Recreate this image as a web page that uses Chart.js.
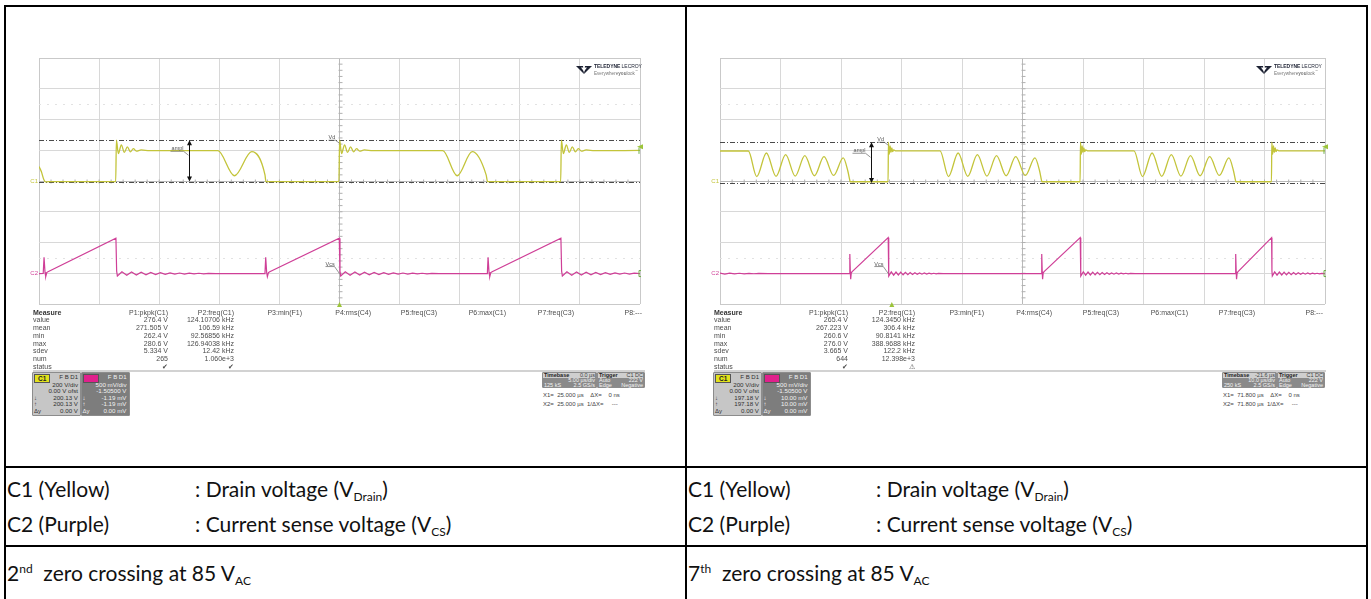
<!DOCTYPE html>
<html>
<head>
<meta charset="utf-8">
<script src="https://cdn.jsdelivr.net/npm/chart.js@4.4.0/dist/chart.umd.min.js"></script>
<style>
  body { margin: 0; background: #fff; width: 1371px; height: 599px; overflow: hidden; position: relative; font-family: Lato, "Noto Sans", sans-serif; }
  .rule { position: absolute; background: #000; }
  .cap { position: absolute; font-size: 21px; line-height: 24px; color: #111; white-space: nowrap; }
  .cap .sb { font-size: 12px; position: relative; top: 4px; }
  .cap .sp { font-size: 12px; position: relative; top: -8px; }
  .scope { position: absolute; font-family: "Liberation Sans", Arial, sans-serif; font-size: 7px; line-height: 7px; color: #4d4d4d; white-space: nowrap; }
  .tiny { position: absolute; font-family: "Liberation Sans", Arial, sans-serif; font-size: 5.5px; line-height: 5px; white-space: nowrap; }
  .box { position: absolute; border: 1px solid #8c8c8c; border-radius: 1px; }
  canvas { position: absolute; }
  .logo { position: absolute; font-family: "Liberation Sans", Arial, sans-serif; white-space: nowrap; }
</style>
</head>
<body>

<div class="rule" style="left:4px;top:5px;width:1364px;height:2px"></div>
<div class="rule" style="left:4px;top:5px;width:2px;height:594px"></div>
<div class="rule" style="left:685px;top:5px;width:2px;height:594px"></div>
<div class="rule" style="left:1366px;top:5px;width:2px;height:594px"></div>
<div class="rule" style="left:4px;top:466px;width:1364px;height:2px"></div>
<div class="rule" style="left:4px;top:545px;width:1364px;height:2px"></div>

<canvas id="leftScope" width="630" height="262" style="left:20px;top:50px"></canvas>
<canvas id="rightScope" width="635" height="262" style="left:700px;top:50px"></canvas>

<div class="cap" style="left:7px;top:477px">C1 (Yellow)</div>
<div class="cap" style="left:195px;top:477px">: Drain voltage (V<span class="sb">Drain</span>)</div>
<div class="cap" style="left:7px;top:512px">C2 (Purple)</div>
<div class="cap" style="left:195px;top:512px">: Current sense voltage (V<span class="sb">CS</span>)</div>
<div class="cap" style="left:7px;top:561px">2<span class="sp">nd</span>&nbsp; zero crossing at 85 V<span class="sb">AC</span></div>

<div class="cap" style="left:688px;top:477px">C1 (Yellow)</div>
<div class="cap" style="left:876px;top:477px">: Drain voltage (V<span class="sb">Drain</span>)</div>
<div class="cap" style="left:688px;top:512px">C2 (Purple)</div>
<div class="cap" style="left:876px;top:512px">: Current sense voltage (V<span class="sb">CS</span>)</div>
<div class="cap" style="left:688px;top:561px">7<span class="sp">th</span>&nbsp; zero crossing at 85 V<span class="sb">AC</span></div>

<script>
// ---- data (time in µs, C1 in V, C2 in mV) ----
const leftXTicks = [-25, -20, -15, -10, -5, 0, 5, 10, 15, 20, 25];          // 5 µs/div
const rightXTicks = [-28.4, -18.4, -8.4, 1.6, 11.6, 21.6, 31.6, 41.6, 51.6, 61.6, 71.6]; // 10 µs/div
const voltTicks = [-800, -600, -400, -200, 0, 200, 400, 600, 800];        // 200 V/div

const leftDrainV = [
  [-25, 95], [-24.8, 60], [-24.6, 10], [-24.45, -6], [-24.2, -4],
  [-18.62, -4], [-18.56, 265], [-18.4, 178], [-18.15, 235], [-17.9, 186], [-17.65, 222], [-17.4, 190], [-17.15, 210], [-16.9, 194], [-16.5, 202], [-15.8, 197],
  [-10.12, 197], [-8.74, 34], [-7.30, 191], [-6.2, 40], [-6.12, -4],
  [-0.05, -4], [0.01, 265], [0.17, 178], [0.42, 235], [0.67, 186], [0.92, 222], [1.17, 190], [1.42, 210], [1.67, 194], [2.07, 202], [2.77, 197],
  [8.59, 197], [9.79, 34], [11.04, 191], [12.2, 40], [12.32, -4],
  [18.40, -4], [18.46, 265], [18.62, 178], [18.87, 235], [19.12, 186], [19.37, 222], [19.62, 190], [19.87, 210], [20.12, 194], [20.52, 202], [21.22, 197],
  [25, 199]
];

const leftCsMv = [
  [-25, 0], [-24.65, 2], [-24.58, 265], [-24.5, 20], [-24.44, -50], [-24.35, 15], [-24.25, 31],
  [-18.6, 574], [-18.54, 40], [-18.48, -40], [-18.1, 28], [-17.7, -26], [-17.3, 25], [-16.9, -23], [-16.5, 21], [-16.1, -19], [-15.7, 18], [-15.3, -16], [-14.9, 15], [-14.5, -13], [-14.1, 12], [-13.7, -10], [-13.3, 9], [-12.9, -8], [-12.5, 7], [-12.1, -6], [-11.7, 5], [-11.3, -4], [-10.9, 3], [-10.3, 0],
  [-6.2, 0], [-6.14, 265], [-6.06, 20], [-6.0, -50], [-5.91, 15], [-5.8, 31],
  [-0.02, 574], [0.04, 40], [0.1, -40], [0.48, 28], [0.88, -26], [1.28, 25], [1.68, -23], [2.08, 21], [2.48, -19], [2.88, 18], [3.28, -16], [3.68, 15], [4.08, -13], [4.48, 12], [4.88, -10], [5.28, 9], [5.68, -8], [6.08, 7], [6.48, -6], [6.88, 5], [7.28, -4], [7.68, 3], [8.28, 0],
  [12.3, 0], [12.36, 265], [12.44, 20], [12.5, -50], [12.59, 15], [12.7, 31],
  [18.42, 574], [18.48, 40], [18.54, -40], [18.92, 28], [19.32, -26], [19.72, 25], [20.12, -23], [20.52, 21], [20.92, -19], [21.32, 18], [21.72, -16], [22.12, 15], [22.52, -13], [22.92, 12], [23.32, -10], [23.72, 9], [24.12, -8], [24.52, 7], [25, 0]
];

const rightDrainV = [
  [-28.4, 195], [-23.72, 195], [-22.32, 29], [-20.73, 182], [-19.14, 30], [-17.55, 172], [-15.97, 32], [-14.38, 165], [-12.79, 34], [-11.21, 158], [-9.62, 36], [-8.03, 150], [-7.3, 70], [-6.95, 5], [-6.9, -5],
  [-0.62, -5], [-0.56, 252], [-0.42, 175], [-0.28, 228], [-0.14, 186], [0.0, 215], [0.14, 191], [0.3, 203], [0.6, 196],
  [7.97, 196], [9.37, 29], [10.96, 182], [12.55, 30], [14.14, 172], [15.72, 32], [17.31, 165], [18.90, 34], [20.48, 158], [22.07, 36], [23.66, 150], [24.4, 70], [24.74, 5], [24.8, -5],
  [31.12, -5], [31.18, 252], [31.32, 175], [31.46, 228], [31.6, 186], [31.74, 215], [31.88, 191], [32.04, 203], [32.34, 196],
  [40.03, 196], [41.43, 29], [43.02, 182], [44.61, 30], [46.20, 172], [47.78, 32], [49.37, 165], [50.96, 34], [52.54, 158], [54.13, 36], [55.72, 150], [56.45, 70], [56.8, 5], [56.86, -5],
  [62.75, -5], [62.81, 252], [62.95, 175], [63.09, 228], [63.23, 186], [63.37, 215], [63.51, 191], [63.67, 203], [63.97, 196],
  [71.6, 196]
];

const rightCsMv = [
  [-28.4, 8], [-27.6, -8], [-26.8, 7], [-26.0, -6], [-25.2, 5], [-24.4, -4], [-23.6, 4], [-22.8, -3], [-22.0, 2], [-20.5, 0],
  [-7.0, 0], [-6.94, 319], [-6.86, 30], [-6.8, -93], [-6.7, 10], [-6.55, 31],
  [-0.6, 584], [-0.54, 40], [-0.48, -40], [-0.09, 28], [0.3, -26], [0.69, 25], [1.08, -23], [1.47, 22], [1.86, -20], [2.25, 19], [2.64, -17], [3.03, 16], [3.42, -14], [3.81, 13], [4.2, -12], [4.59, 11], [4.98, -10], [5.37, 9], [5.76, -8], [6.15, 7], [6.54, -6], [6.93, 5], [7.32, -4], [7.71, 3], [8.5, 0],
  [24.72, 0], [24.78, 319], [24.86, 30], [24.92, -93], [25.02, 10], [25.17, 31],
  [31.14, 584], [31.2, 40], [31.26, -40], [31.65, 28], [32.04, -26], [32.43, 25], [32.82, -23], [33.21, 22], [33.6, -20], [33.99, 19], [34.38, -17], [34.77, 16], [35.16, -14], [35.55, 13], [35.94, -12], [36.33, 11], [36.72, -10], [37.11, 9], [37.5, -8], [37.89, 7], [38.28, -6], [38.67, 5], [39.06, -4], [39.45, 3], [40.2, 0],
  [56.78, 0], [56.84, 319], [56.92, 30], [56.98, -93], [57.08, 10], [57.23, 31],
  [62.77, 584], [62.83, 40], [62.89, -40], [63.28, 28], [63.67, -26], [64.06, 25], [64.45, -23], [64.84, 22], [65.23, -20], [65.62, 19], [66.01, -17], [66.4, 16], [66.79, -14], [67.18, 13], [67.57, -12], [67.96, 11], [68.35, -10], [68.74, 9], [69.13, -8], [69.52, 7], [69.91, -6], [70.3, 5], [70.69, -4], [71.08, 3], [71.6, 0]
];

// amplitude cursors (V) and trigger level
const leftCursorsV = [265, -4];
const rightCursorsV = [252, -13];
const triggerLevelV = 222;

// measurement panel
const measureRows = ['Measure', 'value', 'mean', 'min', 'max', 'sdev', 'num', 'status'];
const paramHeads = ['P1:pkpk(C1)', 'P2:freq(C1)', 'P3:min(F1)', 'P4:rms(C4)', 'P5:freq(C3)', 'P6:max(C1)', 'P7:freq(C3)', 'P8:---'];
const leftP1 = ['276.4 V', '271.505 V', '262.4 V', '280.6 V', '5.334 V', '265', '\u2714'];
const leftP2 = ['124.10706 kHz', '106.59 kHz', '92.56856 kHz', '126.94038 kHz', '12.42 kHz', '1.060e+3', '\u2714'];
const rightP1 = ['265.4 V', '267.223 V', '260.6 V', '276.0 V', '3.665 V', '644', '\u2714'];
const rightP2 = ['124.3450 kHz', '306.4 kHz', '90.8141 kHz', '388.9688 kHz', '122.2 kHz', '12.398e+3', '\u26A0'];
const leftC1Box = ['200 V/div', '0.00 V ofst', '200.13 V', '200.13 V', '0.00 V'];
const leftC2Box = ['500 mV/div', '-1.50500 V', '-1.19 mV', '-1.19 mV', '0.00 mV'];
const rightC1Box = ['200 V/div', '0.00 V ofst', '197.18 V', '197.18 V', '0.00 V'];
const rightC2Box = ['500 mV/div', '-1.50500 V', '10.00 mV', '10.00 mV', '0.00 mV'];
const leftTimebase = ['0.0 µs', '5.00 µs/div', '125 kS', '2.5 GS/s'];
const rightTimebase = ['-21.6 µs', '10.0 µs/div', '250 kS', '2.5 GS/s'];
const triggerInfo = ['C1 DC', 'Auto', '222 V', 'Edge', 'Negative'];
const leftCursorX = ['25.000 µs', '0 ns', '25.000 µs', '---'];
const rightCursorX = ['71.800 µs', '0 ns', '71.800 µs', '---'];

const YELLOW = '#c3c43a';
const MAGENTA = '#cf3f97';

function line(ctx, x1, y1, x2, y2) {
    ctx.beginPath();
    ctx.moveTo(x1, y1);
    ctx.lineTo(x2, y2);
    ctx.stroke();
}

// draws the scope decorations: centre ticks, cursors, arrow, labels, markers
const scopeOverlay = {
    id: 'scopeOverlay',
    beforeDatasetsDraw(chart, args, opts) {
        const { ctx, chartArea: a, scales: { x, y } } = chart;
        ctx.save();
        // faint dotted rows
        ctx.strokeStyle = '#e2e2e2';
        ctx.lineWidth = 1;
        ctx.setLineDash([2, 6]);
        [500, -500].forEach(v => {
            const py = Math.round(y.getPixelForValue(v)) + 0.5;
            line(ctx, a.left, py, a.right, py);
        });
        ctx.setLineDash([]);
        // minor ticks on the centre lines
        const cx = Math.round(x.getPixelForValue(opts.centre)) + 0.5;
        const cy = Math.round(y.getPixelForValue(0)) + 0.5;
        ctx.strokeStyle = '#b0b0b0';
        const dx = (a.right - a.left) / 50, dy = (a.bottom - a.top) / 40;
        for (let i = 1; i < 50; i++) line(ctx, a.left + i * dx, cy - 2, a.left + i * dx, cy + 2);
        for (let i = 1; i < 40; i++) line(ctx, cx - 2, a.top + i * dy, cx + 2, a.top + i * dy);
        // amplitude cursors (dash-dot)
        ctx.strokeStyle = '#4a4a4a';
        ctx.setLineDash([5, 2, 1, 2]);
        opts.cursors.forEach(v => {
            const py = Math.round(y.getPixelForValue(v)) + 0.5;
            line(ctx, a.left, py, a.right, py);
        });
        ctx.restore();
    },
    afterDatasetsDraw(chart, args, opts) {
        const { ctx, chartArea: a, scales: { x, y, y2 } } = chart;
        ctx.save();
        // ampl arrow
        const ax = Math.round(x.getPixelForValue(opts.arrowT)) + 0.5;
        const y1 = y.getPixelForValue(opts.cursors[0]);
        const yb = y.getPixelForValue(opts.cursors[1]);
        ctx.strokeStyle = '#111';
        ctx.fillStyle = '#111';
        ctx.lineWidth = 1;
        line(ctx, ax, y1 + 3, ax, yb - 3);
        ctx.beginPath();
        ctx.moveTo(ax, y1); ctx.lineTo(ax - 2.5, y1 + 5); ctx.lineTo(ax + 2.5, y1 + 5); ctx.closePath(); ctx.fill();
        ctx.beginPath();
        ctx.moveTo(ax, yb); ctx.lineTo(ax - 2.5, yb - 5); ctx.lineTo(ax + 2.5, yb - 5); ctx.closePath(); ctx.fill();

        ctx.font = '5.5px "Liberation Sans", Arial';
        ctx.fillStyle = '#555';
        ctx.strokeStyle = '#666';
        ctx.lineWidth = 0.7;
        // 'ampl' tag
        ctx.textAlign = 'right';
        ctx.fillText('ampl', ax - 6, y1 + 10);
        line(ctx, ax - 19, y1 + 11, ax - 6, y1 + 11);
        line(ctx, ax - 6, y1 + 11, ax - 1, y1 + 15);
        // Vd and Vcs tags next to the switching edge
        const mx = x.getPixelForValue(opts.markT);
        const c2y = y2.getPixelForValue(0);
        ctx.textAlign = 'left';
        ctx.fillText('Vd', mx - 11, y1 - 1);
        line(ctx, mx - 11, y1, mx - 4, y1);
        line(ctx, mx - 4, y1, mx, y1 + 3);
        ctx.fillText('Vcs', mx - 14, c2y - 8);
        line(ctx, mx - 14, c2y - 7, mx - 5, c2y - 7);
        line(ctx, mx - 5, c2y - 7, mx, c2y);

        // channel ground markers
        ctx.font = '6px "Liberation Sans", Arial';
        ctx.textAlign = 'right';
        ctx.textBaseline = 'middle';
        ctx.fillStyle = YELLOW;
        ctx.fillText('C1', a.left - 1, y.getPixelForValue(0));
        ctx.fillStyle = MAGENTA;
        ctx.fillText('C2', a.left - 1, c2y);

        // trigger position / level markers
        const tx = x.getPixelForValue(0);
        ctx.fillStyle = '#9cc43a';
        ctx.beginPath();
        ctx.moveTo(tx, a.bottom - 2); ctx.lineTo(tx - 2.5, a.bottom + 3); ctx.lineTo(tx + 2.5, a.bottom + 3); ctx.closePath(); ctx.fill();
        const ty = y.getPixelForValue(triggerLevelV);
        ctx.beginPath();
        ctx.moveTo(a.right - 3, ty); ctx.lineTo(a.right + 3, ty - 2.5); ctx.lineTo(a.right + 3, ty + 2.5); ctx.closePath(); ctx.fill();
        ctx.strokeStyle = '#6fae4a';
        ctx.lineWidth = 1;
        line(ctx, a.right - 1, ty + 1, a.right - 1, ty + 7);
        line(ctx, a.right - 1, c2y - 3, a.right - 1, c2y + 3);
        line(ctx, a.right - 1, c2y - 3, a.right + 1, c2y - 3);
        line(ctx, a.right - 1, c2y + 3, a.right + 1, c2y + 3);
        ctx.restore();
    }
};

function makeScope(id, xMin, xMax, xTicks, centre, drain, cs, overlay, pad) {
    const gridColor = (c) => {
        if (!c.tick) return '#d4d4d4';
        if (c.index === 0 || c.index === xTicks.length - 1) return '#c9c9c9';
        if (Math.abs(c.tick.value - centre) < 1e-6) return '#b9b9b9';
        return '#d8d8d8';
    };
    return new Chart(document.getElementById(id), {
        type: 'line',
        data: {
            datasets: [
                {
                    label: 'C1',
                    data: drain.map(p => ({ x: p[0], y: p[1] })),
                    yAxisID: 'y',
                    borderColor: YELLOW,
                    borderWidth: 1.3,
                    pointRadius: 0,
                    cubicInterpolationMode: 'monotone'
                },
                {
                    label: 'C2',
                    data: cs.map(p => ({ x: p[0], y: p[1] })),
                    yAxisID: 'y2',
                    borderColor: MAGENTA,
                    borderWidth: 1.2,
                    pointRadius: 0,
                    tension: 0
                }
            ]
        },
        options: {
            responsive: false,
            animation: false,
            events: [],
            layout: { padding: pad },
            plugins: {
                legend: { display: false },
                tooltip: { enabled: false },
                scopeOverlay: overlay
            },
            scales: {
                x: {
                    type: 'linear',
                    min: xMin,
                    max: xMax,
                    afterBuildTicks: s => { s.ticks = xTicks.map(v => ({ value: v })); },
                    ticks: { display: false },
                    border: { display: false },
                    grid: { drawTicks: false, color: gridColor, lineWidth: 1 }
                },
                y: {
                    min: -800,
                    max: 800,
                    afterBuildTicks: s => { s.ticks = voltTicks.map(v => ({ value: v })); },
                    ticks: { display: false },
                    border: { display: false },
                    grid: {
                        drawTicks: false,
                        lineWidth: 1,
                        color: c => (c.tick && Math.abs(c.tick.value) === 800) ? '#c9c9c9' : (c.tick && c.tick.value === 0 ? '#b9b9b9' : '#d8d8d8')
                    }
                },
                // C2: 500 mV/div, offset -1.505 V
                y2: { display: false, min: -495, max: 3505 }
            }
        },
        plugins: [scopeOverlay]
    });
}

makeScope('leftScope', -25, 25, leftXTicks, 0, leftDrainV, leftCsMv,
    { centre: 0, cursors: leftCursorsV, arrowT: -12.48, markT: 0 },
    { left: 19, right: 10, top: 8, bottom: 8 });
makeScope('rightScope', -28.4, 71.6, rightXTicks, 21.6, rightDrainV, rightCsMv,
    { centre: 21.6, cursors: rightCursorsV, arrowT: -3.39, markT: -0.58 },
    { left: 20, right: 10, top: 8, bottom: 8 });

// ---- text panels of the scope captures ----
function addDiv(cls, x, y, html, align, extra) {
    const d = document.createElement('div');
    d.className = cls;
    d.innerHTML = html;
    d.style.top = y + 'px';
    if (align === 'right') d.style.right = (1371 - x) + 'px';
    else d.style.left = x + 'px';
    if (extra) Object.assign(d.style, extra);
    document.body.appendChild(d);
    return d;
}

function measurePanel(labelX, colRight, p1, p2) {
    const top = 308.5, step = 7.75;
    measureRows.forEach((r, i) => {
        addDiv('scope', labelX, top + i * step, r, 'left', i === 0 ? { fontWeight: 'bold', color: '#333' } : null);
    });
    paramHeads.forEach((h, j) => addDiv('scope', colRight[j], top, h, 'right'));
    p1.forEach((v, i) => addDiv('scope', colRight[0], top + (i + 1) * step, v, 'right'));
    p2.forEach((v, i) => addDiv('scope', colRight[1], top + (i + 1) * step, v, 'right'));
    addDiv('rule', labelX, 370, '', 'left', { width: (colRight[7] + 3 - labelX) + 'px', height: '2px', background: '#d2d2d2' });
}

function channelBox(x, y, name, vals, dark) {
    const w = 47, h = 42;
    addDiv('box', x, y, '', 'left', { width: w + 'px', height: h + 'px', background: dark ? '#7d7d7d' : '#c6c6c6' });
    const txt = dark ? '#f2f2f2' : '#303030';
    addDiv('tiny', x + 2, y + 2, name, 'left', {
        background: dark ? '#e0208c' : '#e2e21c', color: dark ? '#e0208c' : '#222', fontWeight: 'bold',
        fontSize: '6.5px', lineHeight: '7px', padding: '0 3px', border: '1px solid #555'
    });
    addDiv('tiny', x + w - 1, y + 2, 'F&nbsp;B&nbsp;D1', 'right', { color: txt, fontSize: '6px', lineHeight: '6px' });
    const glyphs = ['', '', '\u2193', '\u2191', '\u0394y'];
    vals.forEach((v, i) => {
        addDiv('tiny', x + w - 1, y + 9.5 + i * 6.6, v, 'right', { color: txt, fontSize: '6.2px', lineHeight: '6px' });
        if (glyphs[i]) addDiv('tiny', x + 2, y + 9.5 + i * 6.6, glyphs[i], 'left', { color: txt, fontSize: '6px', lineHeight: '6px' });
    });
}

function timeBoxes(x, y, tb, cx) {
    addDiv('box', x, y, '', 'left', { width: '53px', height: '14px', background: '#8a8a8a' });
    addDiv('tiny', x + 1, y + 1, '', 'left', { width: '52px', height: '5px', background: '#cfcfcf' });
    addDiv('tiny', x + 2, y + 1, '<b>Timebase</b>', 'left', { color: '#222' });
    addDiv('tiny', x + 53, y + 1, tb[0], 'right', { color: '#444' });
    addDiv('tiny', x + 53, y + 6, tb[1], 'right', { color: '#f4f4f4' });
    addDiv('tiny', x + 2, y + 11, tb[2], 'left', { color: '#f4f4f4', lineHeight: '4px' });
    addDiv('tiny', x + 53, y + 11, tb[3], 'right', { color: '#f4f4f4', lineHeight: '4px' });
    const tx = x + 55;
    addDiv('box', tx, y, '', 'left', { width: '46px', height: '14px', background: '#8a8a8a' });
    addDiv('tiny', tx + 1, y + 1, '', 'left', { width: '45px', height: '5px', background: '#cfcfcf' });
    addDiv('tiny', tx + 2, y + 1, '<b>Trigger</b>', 'left', { color: '#222' });
    addDiv('tiny', tx + 46, y + 1, triggerInfo[0], 'right', { color: '#444' });
    addDiv('tiny', tx + 2, y + 6, triggerInfo[1], 'left', { color: '#f4f4f4' });
    addDiv('tiny', tx + 46, y + 6, triggerInfo[2], 'right', { color: '#f4f4f4' });
    addDiv('tiny', tx + 2, y + 11, triggerInfo[3], 'left', { color: '#f4f4f4', lineHeight: '4px' });
    addDiv('tiny', tx + 46, y + 11, triggerInfo[4], 'right', { color: '#f4f4f4', lineHeight: '4px' });
    addDiv('tiny', x + 1, y + 21, 'X1=&nbsp; ' + cx[0] + '&nbsp;&nbsp;&nbsp; \u0394X=&nbsp;&nbsp;&nbsp; ' + cx[1], 'left', { color: '#444', fontSize: '6px' });
    addDiv('tiny', x + 1, y + 30, 'X2=&nbsp; ' + cx[2] + '&nbsp; 1/\u0394X=&nbsp;&nbsp;&nbsp;&nbsp; ' + cx[3], 'left', { color: '#444', fontSize: '6px' });
}

function logo(x, y) {
    addDiv('logo', x, y, '<svg width="16" height="10" viewBox="0 0 16 10"><path d="M0 1 L7 1 L8 9 Z M16 1 L9 1 L8 9 Z" fill="#1d2233"/><path d="M5 2.5 L11 2.5 L8 6.5 Z" fill="#fff"/></svg>', 'left');
    addDiv('logo', x + 18, y + 2, '<b>TELEDYNE</b> LECROY', 'left', { fontSize: '5px', color: '#1d2233', letterSpacing: '-0.05px' });
    addDiv('logo', x + 18, y + 8, 'Everywhere<b>you</b>look<sup style="font-size:3px">™</sup>', 'left', { fontSize: '4.6px', color: '#777' });
}

measurePanel(33, [168, 234, 302, 371, 437, 506, 574, 642], leftP1, leftP2);
measurePanel(714, [848, 915, 984, 1052, 1119, 1188, 1255, 1323], rightP1, rightP2);
channelBox(32, 372, 'C1', leftC1Box, false);
channelBox(80.5, 372, 'C2', leftC2Box, true);
channelBox(713, 372, 'C1', rightC1Box, false);
channelBox(761.5, 372, 'C2', rightC2Box, true);
timeBoxes(542, 372, leftTimebase, leftCursorX);
timeBoxes(1222, 372, rightTimebase, rightCursorX);
logo(576, 61);
logo(1256, 61);
</script>
</body>
</html>
